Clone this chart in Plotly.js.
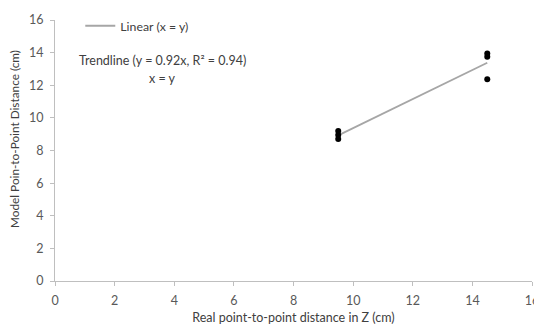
<!DOCTYPE html>
<html><head><meta charset="utf-8">
<script src="https://cdn.plot.ly/plotly-3.0.1.min.js"></script>
<style>html,body{margin:0;padding:0;background:#fff}#chart{width:534px;height:325px}</style>
</head><body><div id="chart"></div>
<script>
const realX = [9.5, 9.5, 9.5, 14.5, 14.5, 14.5];
const modelY = [9.2, 8.95, 8.7, 13.95, 13.75, 12.37];
const trendX = [9.5, 14.5];
const trendY = [8.93, 13.38];
const xTicks = [0, 2, 4, 6, 8, 10, 12, 14, 16];
const yTicks = [0, 2, 4, 6, 8, 10, 12, 14, 16];

const ff = 'Lato, "Open Sans", sans-serif';
const font = {family: ff, size: 12.5, color: '#404040'};
const tfont = {family: ff, size: 12.5, color: '#595959'};
const traces = [
  {x: trendX, y: trendY, mode: 'lines', name: 'Linear (x = y)',
   line: {color: '#a6a6a6', width: 1.8}, showlegend: true},
  {x: realX, y: modelY, mode: 'markers', name: 'data',
   marker: {color: '#000000', size: 6}, showlegend: false}
];
const axisBase = {showgrid: false, zeroline: false, showline: true, linecolor: '#bfbfbf', linewidth: 1,
  ticks: 'outside', ticklen: 4, tickcolor: '#bfbfbf', tickfont: tfont, ticklabeloverflow: 'allow'};
const layout = {
  width: 534, height: 325,
  margin: {l: 55, r: 2, t: 20, b: 44},
  paper_bgcolor: '#fff', plot_bgcolor: '#fff',
  font: font,
  xaxis: Object.assign({}, axisBase, {range: [0, 16], tickvals: xTicks, ticktext: xTicks.map(String),
    ticklabelstandoff: 4,
    title: {text: 'Real point-to-point distance in Z (cm)', font: font, standoff: 6}}),
  yaxis: Object.assign({}, axisBase, {range: [0, 16], tickvals: yTicks, ticktext: yTicks.map(String),
    ticklabelstandoff: 4}),
  legend: {x: 0.053, y: 0.978, xanchor: 'left', yanchor: 'middle', bgcolor: 'rgba(0,0,0,0)',
    font: {family: ff, size: 12.3, color: '#404040'}},
  annotations: [
    {xref: 'paper', yref: 'paper', x: -0.086, y: 0.544, text: 'Model Poin-to-Point Distance (cm)',
     textangle: -90, showarrow: false, font: {family: ff, size: 11.8, color: '#404040'},
     xanchor: 'center', yanchor: 'middle'},
    {xref: 'paper', yref: 'paper', x: 0.226, y: 0.844, text: 'Trendline (y = 0.92x, R² = 0.94)',
     showarrow: false, font: font, xanchor: 'center', yanchor: 'middle'},
    {xref: 'paper', yref: 'paper', x: 0.226, y: 0.774, text: 'x = y',
     showarrow: false, font: font, xanchor: 'center', yanchor: 'middle'}
  ]
};
Plotly.newPlot('chart', traces, layout, {displayModeBar: false, staticPlot: true});
</script></body></html>
